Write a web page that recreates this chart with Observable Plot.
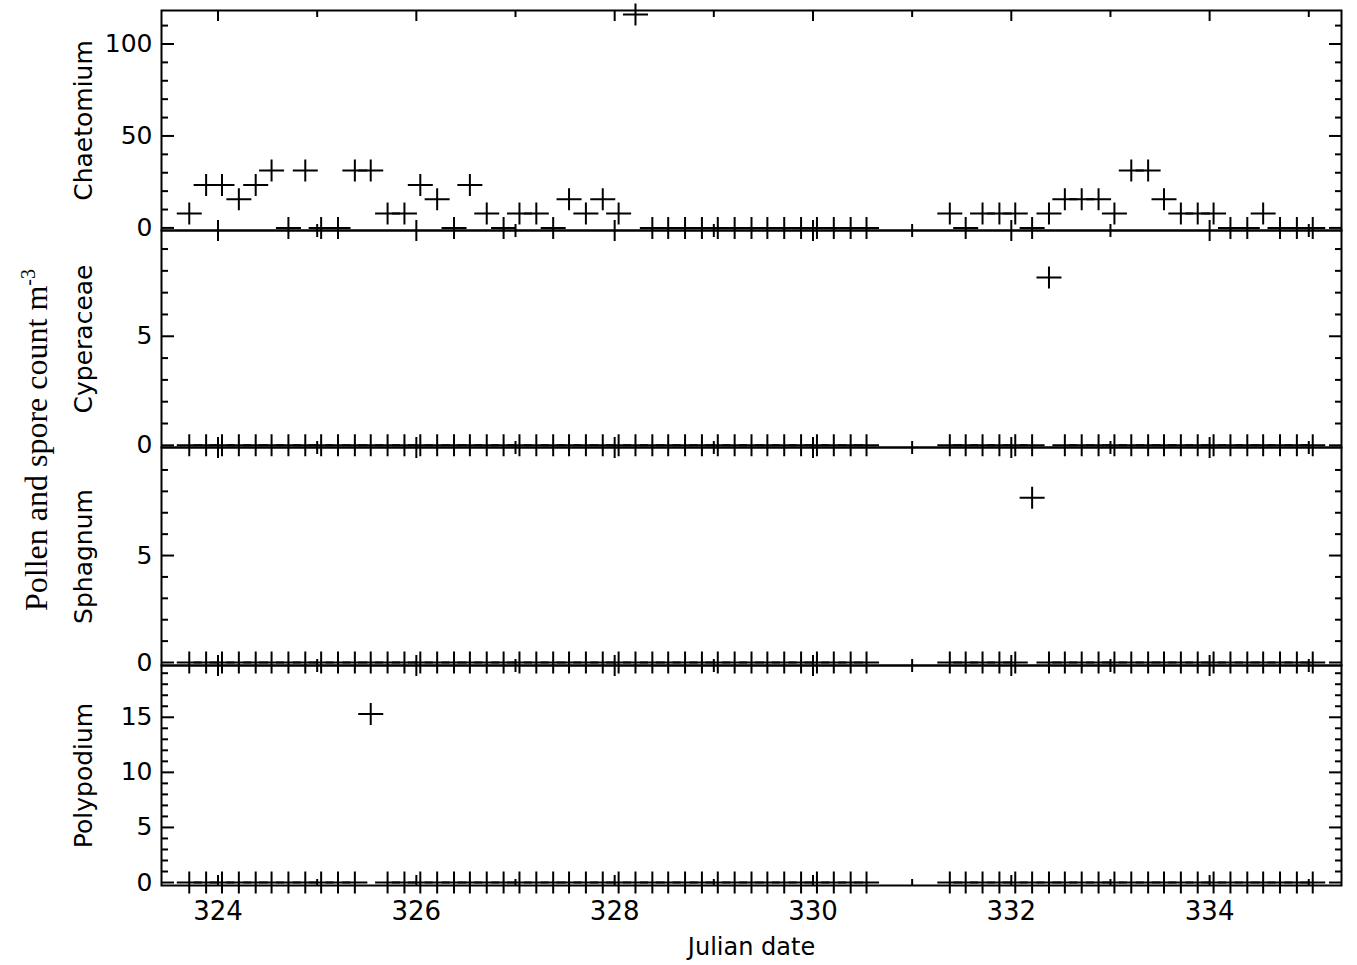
<!DOCTYPE html>
<html>
<head>
<meta charset="utf-8">
<script src="https://cdn.jsdelivr.net/npm/d3@7"></script>
<script src="https://cdn.jsdelivr.net/npm/@observablehq/plot@0.6"></script>
<style>
  html, body { margin: 0; padding: 0; background: #fff; }
  #chart { position: relative; width: 1357px; height: 965px; overflow: hidden; background: #fff; }
  .panel { position: absolute; left: 0; }
  #ylabel {
    position: absolute; left: 36px; top: 440px;
    transform: translate(-50%, -50%) rotate(-90deg);
    font-family: "Liberation Serif", "DejaVu Serif", serif; font-size: 32px; white-space: nowrap; color: #000;
  }
  #ylabel sup { font-size: 20px; }
</style>
</head>
<body>
<div id="chart"><div id="ylabel">Pollen and spore count m<sup>-3</sup></div></div>
<script>
// Sample times (Julian date), 4-hourly; gap around 330.7–331.2
const times = [
  323.71, 323.88, 324.04, 324.21, 324.38, 324.54, 324.71, 324.88, 325.04, 325.21,
  325.38, 325.54, 325.71, 325.88, 326.04, 326.21, 326.38, 326.54, 326.71, 326.88,
  327.04, 327.21, 327.38, 327.54, 327.71, 327.88, 328.04, 328.21, 328.38, 328.54,
  328.71, 328.88, 329.04, 329.21, 329.38, 329.54, 329.71, 329.88, 330.04, 330.21,
  330.38, 330.54,
  331.38, 331.54, 331.71, 331.88, 332.04, 332.21, 332.38, 332.54, 332.71, 332.88,
  333.04, 333.21, 333.38, 333.54, 333.71, 333.88, 334.04, 334.21, 334.38, 334.54,
  334.71, 334.88, 335.04
];
const chaetomium = [
  7.8, 23.4, 23.4, 15.6, 23.4, 31.2, 0, 31.2, 0, 0,
  31.2, 31.2, 7.8, 7.8, 23.4, 15.6, 0, 23.4, 7.8, 0,
  7.8, 7.8, 0, 15.6, 7.8, 15.6, 7.8, 116, 0, 0,
  0, 0, 0, 0, 0, 0, 0, 0, 0, 0,
  0, 0,
  7.8, 0, 7.8, 7.8, 7.8, 0, 7.8, 15.6, 15.6, 15.6,
  7.8, 31.2, 31.2, 15.6, 7.8, 7.8, 7.8, 0, 0, 7.8,
  0, 0, 0
];
const cyperaceae = [
  0, 0, 0, 0, 0, 0, 0, 0, 0, 0,
  0, 0, 0, 0, 0, 0, 0, 0, 0, 0,
  0, 0, 0, 0, 0, 0, 0, 0, 0, 0,
  0, 0, 0, 0, 0, 0, 0, 0, 0, 0,
  0, 0,
  0, 0, 0, 0, 0, 0, 7.7, 0, 0, 0,
  0, 0, 0, 0, 0, 0, 0, 0, 0, 0,
  0, 0, 0
];
const sphagnum = [
  0, 0, 0, 0, 0, 0, 0, 0, 0, 0,
  0, 0, 0, 0, 0, 0, 0, 0, 0, 0,
  0, 0, 0, 0, 0, 0, 0, 0, 0, 0,
  0, 0, 0, 0, 0, 0, 0, 0, 0, 0,
  0, 0,
  0, 0, 0, 0, 0, 7.7, 0, 0, 0, 0,
  0, 0, 0, 0, 0, 0, 0, 0, 0, 0,
  0, 0, 0
];
const polypodium = [
  0, 0, 0, 0, 0, 0, 0, 0, 0, 0,
  0, 15.3, 0, 0, 0, 0, 0, 0, 0, 0,
  0, 0, 0, 0, 0, 0, 0, 0, 0, 0,
  0, 0, 0, 0, 0, 0, 0, 0, 0, 0,
  0, 0,
  0, 0, 0, 0, 0, 0, 0, 0, 0, 0,
  0, 0, 0, 0, 0, 0, 0, 0, 0, 0,
  0, 0, 0
];
const panelNames = ["Chaetomium", "Cyperaceae", "Sphagnum", "Polypodium"];
const xDomain = [323.43, 335.33];
const xTickLabels = [324, 326, 328, 330, 332, 334];
const xDayTicks = [324, 325, 326, 327, 328, 329, 330, 331, 332, 333, 334, 335];
const xMajorDays = [324, 326, 328, 330, 332, 334];
const chaetomiumDomain = [-1.4, 118.2];
const chaetomiumMajor = [0, 50, 100];
const chaetomiumMinor = [10, 20, 30, 40, 60, 70, 80, 90, 110];
const cyperaceaeDomain = [-0.1, 9.85];
const sphagnumDomain = [-0.14, 10.05];
const smallMajor = [0, 5];
const smallMinor = [1, 2, 3, 4, 6, 7, 8, 9];
const polypodiumDomain = [-0.27, 19.7];
const polypodiumMajor = [0, 5, 10, 15];
const polypodiumMinor = [1, 2, 3, 4, 6, 7, 8, 9, 11, 12, 13, 14, 16, 17, 18, 19];
const xLabel = "Julian date";

// layout
const W = 1357, ML = 161, MR = 16;
const panels = [
  {name: panelNames[0], values: chaetomium, domain: chaetomiumDomain, major: chaetomiumMajor, minor: chaetomiumMinor, top: 0,   h: 230, mt: 10, mb: 0},
  {name: panelNames[1], values: cyperaceae, domain: cyperaceaeDomain, major: smallMajor,      minor: smallMinor,      top: 230, h: 217, mt: 0,  mb: 0},
  {name: panelNames[2], values: sphagnum,   domain: sphagnumDomain,   major: smallMajor,      minor: smallMinor,      top: 447, h: 218, mt: 0,  mb: 0},
  {name: panelNames[3], values: polypodium, domain: polypodiumDomain, major: polypodiumMajor, minor: polypodiumMinor, top: 665, h: 300, mt: 0,  mb: 80}
];

const plusSymbol = {
  draw(ctx) {
    const w = 12.5, h = 11;
    ctx.moveTo(-w, 0); ctx.lineTo(w, 0);
    ctx.moveTo(0, -h); ctx.lineTo(0, h);
  }
};

const chart = document.getElementById("chart");
panels.forEach((p, i) => {
  const data = times.map((t, j) => ({t, v: p.values[j]}));
  const isBottom = i === panels.length - 1;
  const blank = () => "";
  const minorDays = xDayTicks.filter(d => !xMajorDays.includes(d));
  const marks = [
    // y ticks, left and right, inward
    Plot.axisY({anchor: "left", ticks: p.major, tickSize: -13, tickFormat: blank, label: null, strokeWidth: 2}),
    Plot.axisY({anchor: "left", ticks: p.minor, tickSize: -7, tickFormat: blank, label: null, strokeWidth: 2}),
    Plot.axisY({anchor: "right", ticks: p.major, tickSize: -13, tickFormat: blank, label: null, strokeWidth: 2}),
    Plot.axisY({anchor: "right", ticks: p.minor, tickSize: -7, tickFormat: blank, label: null, strokeWidth: 2}),
    Plot.axisY({anchor: "left", ticks: p.major, tickSize: 0, tickPadding: 9, label: null, fontSize: 25}),
    // x ticks on top and bottom edges
    Plot.axisX({anchor: "top", ticks: xMajorDays, tickSize: -10, tickFormat: blank, label: null, strokeWidth: 2}),
    Plot.axisX({anchor: "top", ticks: minorDays, tickSize: -6, tickFormat: blank, label: null, strokeWidth: 2}),
    Plot.axisX({anchor: "bottom", ticks: xMajorDays, tickSize: -10, tickFormat: blank, label: null, strokeWidth: 2}),
    Plot.axisX({anchor: "bottom", ticks: minorDays, tickSize: -6, tickFormat: blank, label: null, strokeWidth: 2}),
    Plot.frame({stroke: "black", strokeWidth: 2}),
    Plot.dot(data, {x: "t", y: "v", symbol: plusSymbol, stroke: "black", fill: "none", strokeWidth: 2}),
    Plot.text([p.name], {frameAnchor: "left", textAnchor: "middle", rotate: -90, dx: -78, fontSize: 25, fill: "black"})
  ];
  if (isBottom) {
    marks.push(Plot.axisX({anchor: "bottom", ticks: xTickLabels, tickSize: 0, tickPadding: 16, label: null, fontSize: 26}));
    marks.push(Plot.text([xLabel], {frameAnchor: "bottom", dy: 69, fontSize: 24, fill: "black"}));
  }
  const svg = Plot.plot({
    width: W,
    height: p.h,
    marginLeft: ML,
    marginRight: MR,
    marginTop: p.mt,
    marginBottom: p.mb,
    x: {domain: xDomain},
    y: {domain: p.domain},
    style: {fontFamily: "'DejaVu Sans', sans-serif", color: "black", background: "transparent", overflow: "visible"},
    marks
  });
  svg.classList.add("panel");
  svg.style.top = p.top + "px";
  chart.appendChild(svg);
});
</script>
</body>
</html>
